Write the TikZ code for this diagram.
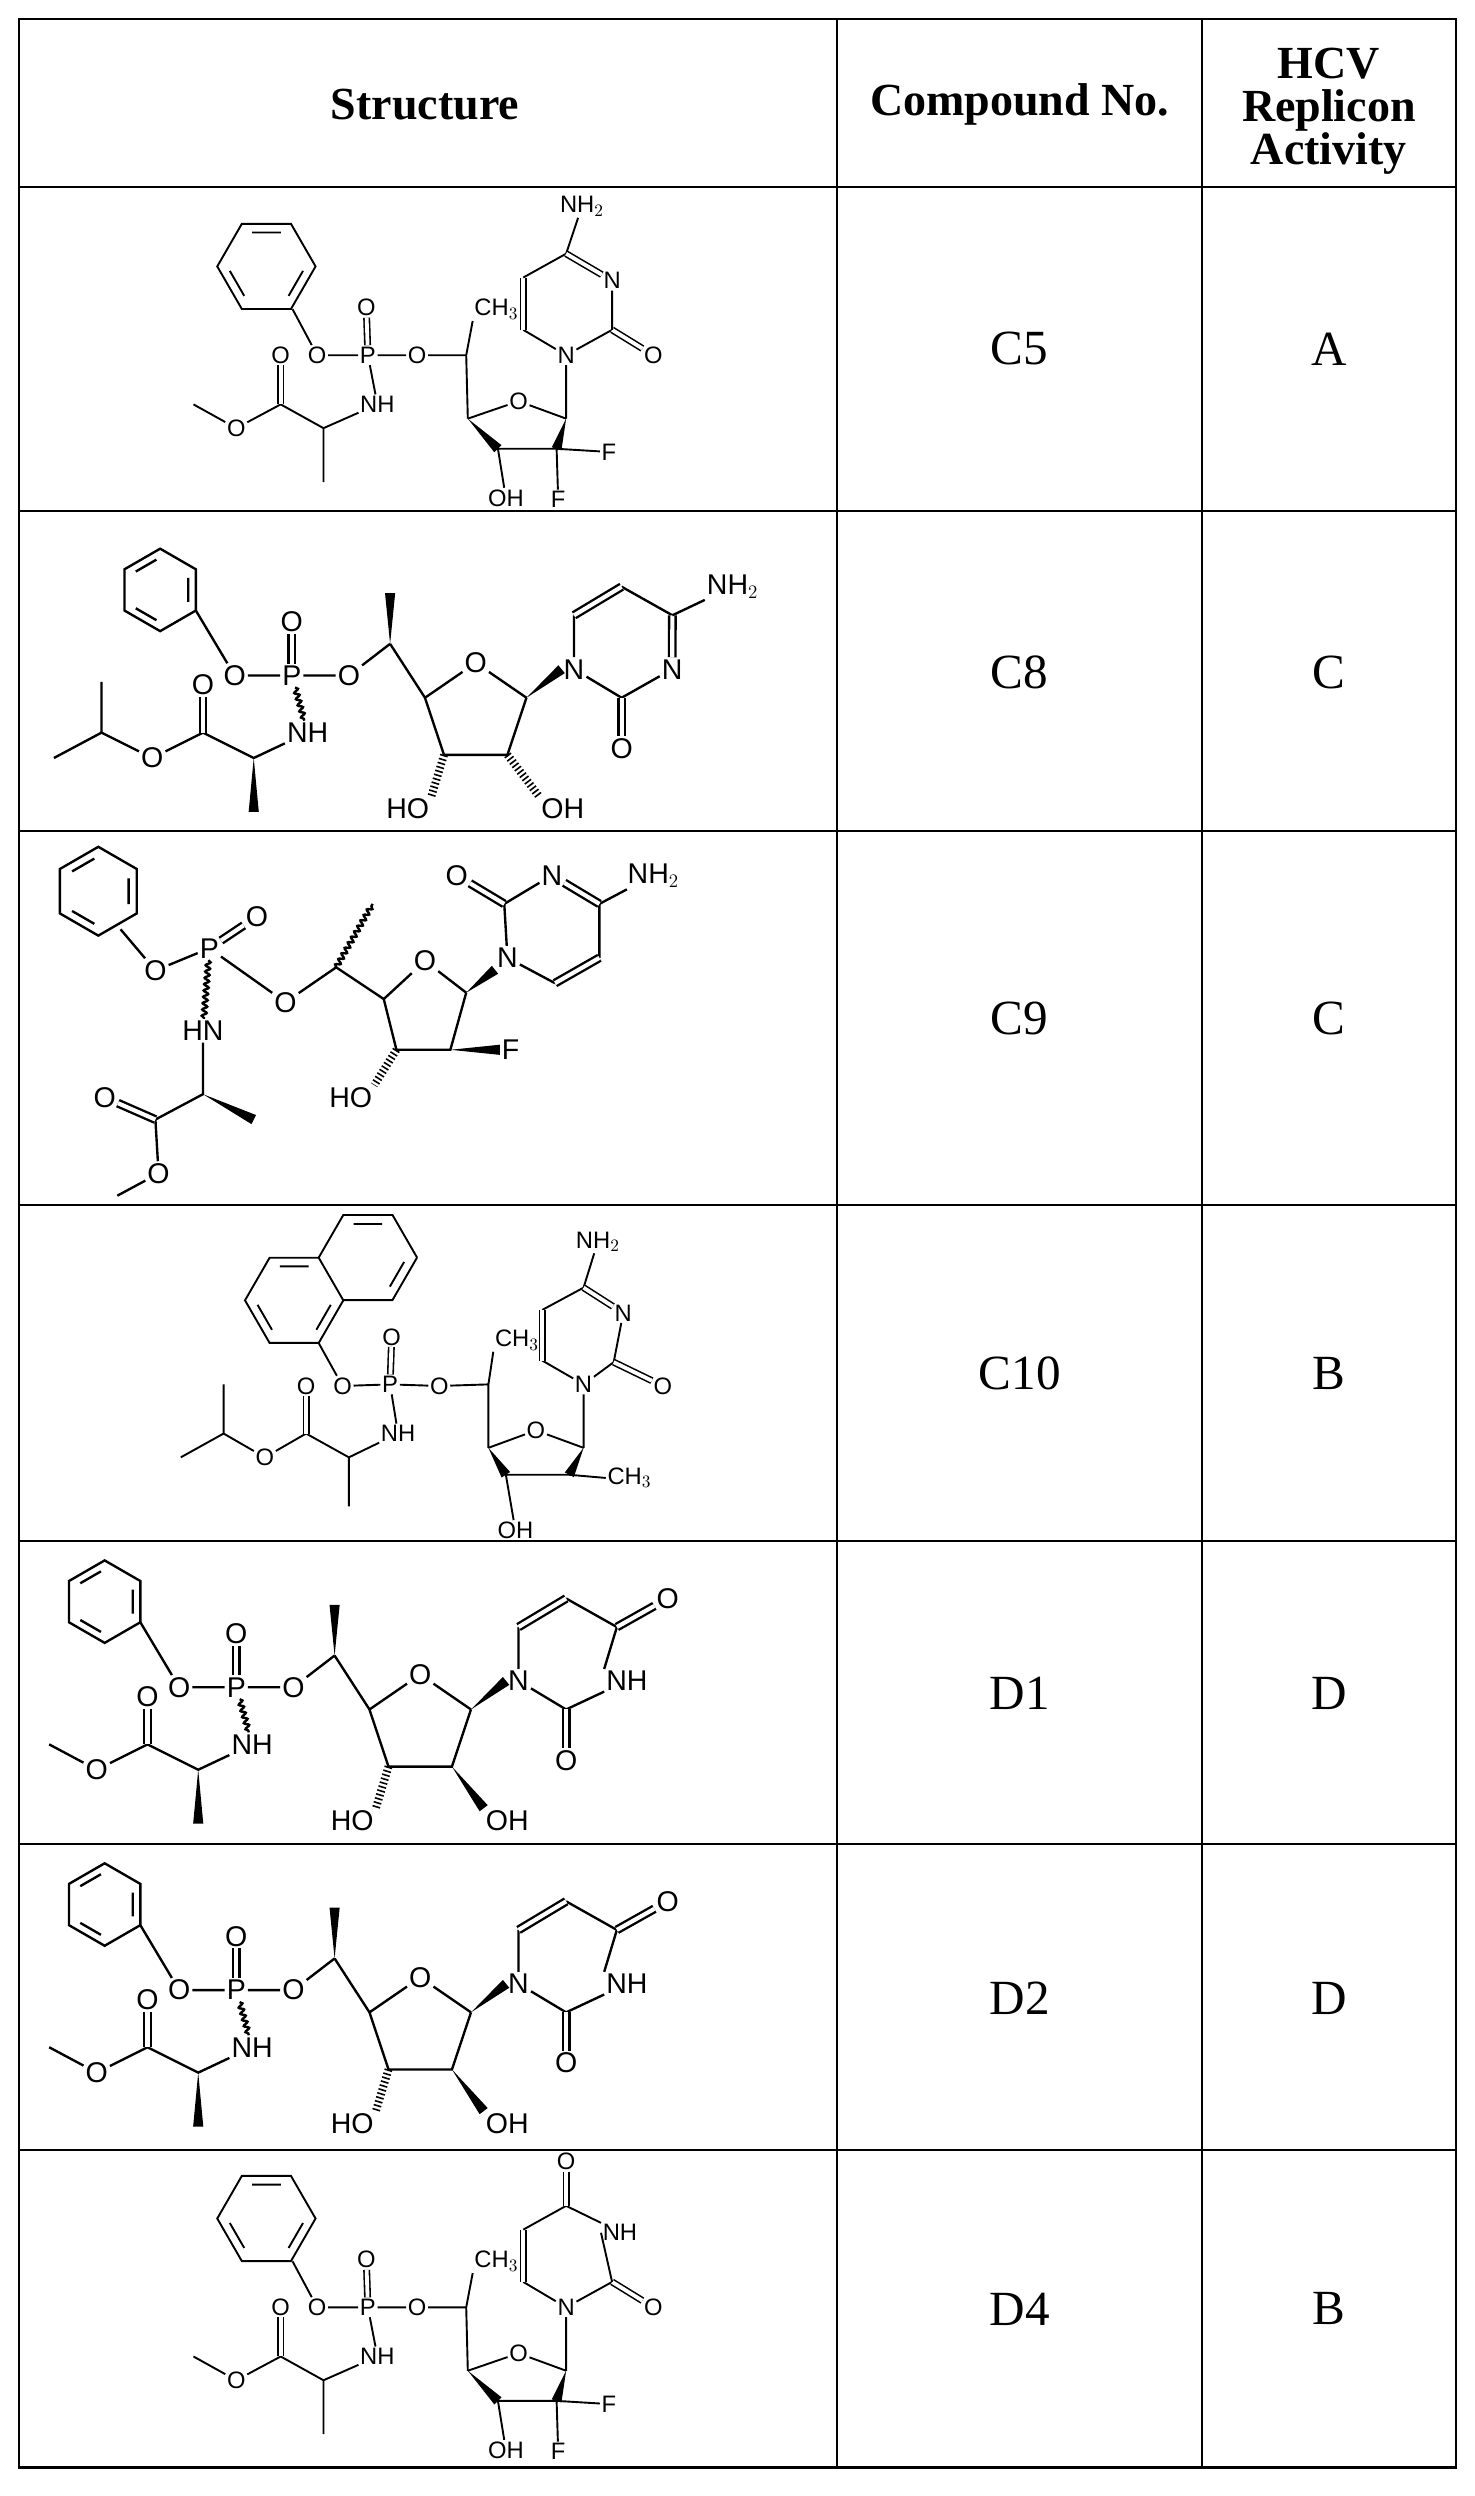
\documentclass[tikz,border=0pt]{standalone}
\usepackage{fontspec}
\setmainfont{Liberation Serif}
\newfontfamily\chem{Liberation Sans}
\usetikzlibrary{calc,decorations.pathmorphing}
\tikzset{
 grid/.style={line width=1.3pt},
 hdr/.style={font=\bfseries\fontsize{29}{27}\selectfont,align=center},
 cell/.style={font=\fontsize{31}{33}\selectfont},
 bd/.style={line width=1.5pt},
 sbd/.style={line width=1.2pt},
 atm/.style={font=\chem\fontsize{18}{18}\selectfont,inner sep=0.6pt},
 sat/.style={font=\chem\fontsize{15}{15}\selectfont,inner sep=0.5pt},
 dbl/.style={double,double distance=2.6pt},
 sdbl/.style={double,double distance=2.4pt,line width=1pt},
 hsh/.style={line width=5pt,dash pattern=on 1pt off 1.6pt},
 wavy/.style={decorate,decoration={snake,amplitude=1.5pt,segment length=4pt}}
}
\newcommand\wdgtri[2]{\fill (#1) -- ($(#2)!3.2pt!90:(#1)$) -- ($(#2)!3.2pt!-90:(#1)$) -- cycle;}
\newcommand\phen[3]{%
 \draw[shift={(#1,#2)}] (90:#3)--(150:#3)--(210:#3)--(270:#3)--(330:#3)--(30:#3)--cycle;
 \draw[shift={(#1,#2)}] (97:{0.74*#3})--(143:{0.74*#3}) (217:{0.74*#3})--(263:{0.74*#3}) (337:{0.74*#3})--(23:{0.74*#3});}
\newcommand\phenf[3]{%
 \draw[shift={(#1,#2)}] (0:#3)--(60:#3)--(120:#3)--(180:#3)--(240:#3)--(300:#3)--cycle;
 \draw[shift={(#1,#2)}] (7:{0.75*#3})--(53:{0.75*#3}) (127:{0.75*#3})--(173:{0.75*#3}) (247:{0.75*#3})--(293:{0.75*#3});}
% bold template
\newcommand\bigcore[1]{%
 \phen{101}{50}{26}
 \node[atm] (O1) at (148,104){O};
 \node[atm] (P) at (184,104){P};
 \node[atm] (Od) at (184,70){O};
 \node[atm] (O2) at (220,104){O};
 \node[atm] (N) at (194,140){NH};
 \coordinate (c5) at (246,84); \coordinate (m5) at (246,52);
 \coordinate (c4) at (268,118); \node[atm] (Or) at (300,96){O};
 \coordinate (c1) at (332,118); \coordinate (c2) at (320,154); \coordinate (c3) at (280,154);
 \node[atm] (N1) at (362,100){N};
 \coordinate (b2) at (392,118); \node[atm,anchor=west](N3) at (416,100){#1};
 \coordinate (b4) at (424,66); \coordinate (b5) at (392,48); \coordinate (b6) at (362,66);
 \node[atm](Ob) at (392,150){O};
 \coordinate (ca) at (160,156); \coordinate (cm) at (160,190); \coordinate (cc) at (128,140);
 \node[atm](Oc) at (128,110){O}; \node[atm](Oe) at (96,156){O};
 \node[atm,anchor=east](HO) at (272,188){HO};
 \draw (123.5,63)--(O1) (O1)--(P) (P)--(O2) (O2)--(c5) (c5)--(c4);
 \wdgtri{c5}{m5}
 \draw[dbl] (P)--(Od);
 \draw[wavy] (P)--(N);
 \draw (c4)--(Or) (Or)--(c1) (c1)--(c2)--(c3)--(c4);
 \wdgtri{c1}{N1.west}
 \draw (N1)--(b2) (b2)--(N3) (b4)--(b5) (b6)--(N1);
 \draw[dbl] (b2)--(Ob); \draw[dbl] (b5)--(b6);
 \draw (N)--(ca)--(cc) (cc)--(Oe);
 \draw[dbl] (cc)--(Oc);
 \wdgtri{ca}{cm}
 \draw[hsh] (c3)--(HO.north east);}
% small template
\newcommand\smallcore{%
 \phenf{168}{50}{31}
 \node[sat] (O1) at (200,106){O};
 \node[sat] (P) at (232,106){P};
 \node[sat] (Od) at (231,76){O};
 \node[sat] (O2) at (263,106){O};
 \node[sat] (N) at (238,137){NH};
 \coordinate (c5) at (294,106);
 \node[sat] (Me5) at (313,77){CH$_3$};
 \coordinate (c4) at (295,146); \node[sat] (Or) at (327,135){O};
 \coordinate (c1) at (357,146); \coordinate (c2) at (351,165); \coordinate (c3) at (314,165);
 \node[sat] (OH) at (319,196){OH};
 \node[sat] (N1) at (357,106){N};
 \coordinate (b2) at (386,90); \coordinate (b4) at (357,42);
 \coordinate (b5) at (330,57); \coordinate (b6) at (330,90);
 \node[sat](Ob) at (412,106){O};
 \coordinate (ca) at (204,152); \coordinate (cm) at (204,186); \coordinate (cc) at (177,137);
 \node[sat](Oc) at (177,106){O}; \node[sat](Oe) at (149,152){O};
 \draw (184.5,77)--(O1) (O1)--(P) (P)--(O2) (O2)--(c5) (c5)--(c4) (c5)--(Me5.south west) (P)--(N);
 \draw[sdbl] (P)--(Od);
 \draw (c4)--(Or) (Or)--(c1) (c2)--(c3) (c3)--(OH);
 \wdgtri{c4}{c3} \wdgtri{c1}{c2}
 \draw (c1)--(N1) (N1)--(b2) (b6)--(N1);
 \draw[sdbl] (b2)--(Ob); \draw[sdbl] (b5)--(b6);
 \draw (N)--(ca)--(cc) (cc)--(Oe) (ca)--(cm) (Oe)--(122,137);
 \draw[sdbl] (cc)--(Oc);
 \node[sat](F1) at (384,167){F}; \node[sat](F2) at (352,197){F};
 \draw (c2)--(F1) (c2)--(F2);}
\begin{document}
\begin{tikzpicture}[x=1pt,y=-1pt]
\fill[white] (0,0) rectangle (930,1574);
\useasboundingbox (0,0) rectangle (930,1574);
% grid
\draw[grid] (12,12) rectangle (918,1556);
\foreach \yy in {118,322,524,760,972,1163,1356} \draw[grid] (12,\yy)--(918,\yy);
\draw[grid] (528,12)--(528,1556) (758,12)--(758,1556);
\node[hdr] (h1) at (268,66){Structure};
\node[hdr] (h2) at (643,66){Compound No.};
\node[hdr] (h3) at (838,70){HCV\\Replicon\\Activity};
\foreach \y/\c/\a [count=\i] in {220/C5/A,424/C8/C,642/C9/C,866/C10/B,1068/D1/D,1260/D2/D,1456/D4/B}{
 \node[cell] (n\i) at (643,\y){\c};
 \node[cell] (a\i) at (838,\y){\a};}
% ---- C5
\begin{scope}[shift={(0,118)},sbd]
 \smallcore
 \node[sat](N3) at (386,59){N};
 \node[sat](NH2) at (367,12){NH$_2$};
 \draw (b2)--(N3) (b4)--(b5) (b4)--(NH2);
 \draw[sdbl] (N3)--(b4);
\end{scope}
% ---- C8
\begin{scope}[shift={(0,322)},bd]
 \bigcore{N}
 \draw (Oe)--(64,140)--(34,156) (64,140)--(64,108);
 \node[atm](NH2) at (462,48){NH$_2$};
 \draw[dbl] (N3)--(b4); \draw (b4)--(NH2);
 \node[atm,anchor=west](OH) at (340,188){OH};
 \draw[hsh] (c2)--(OH.north west);
\end{scope}
% ---- C9
\begin{scope}[bd]
 \phen{62}{562}{28}
 \node[atm](O1) at (98,612){O};
 \node[atm](P) at (132,598){P};
 \node[atm](Od) at (162,578){O};
 \node[atm](O2) at (180,632){O};
 \node[atm](HN) at (128,650){HN};
 \coordinate (c5) at (212,610); \coordinate (m5) at (235,570);
 \coordinate (c4) at (242,630); \node[atm](Or) at (268,606){O};
 \coordinate (c1) at (294,626); \coordinate (c2) at (284,662); \coordinate (c3) at (250,662);
 \node[atm](N1) at (320,604){N};
 \coordinate (b2) at (318,570); \node[atm](N3) at (348,552){N};
 \coordinate (b4) at (378,570); \coordinate (b5) at (378,604); \coordinate (b6) at (350,620);
 \node[atm](Ob) at (288,552){O};
 \node[atm](NH2) at (412,552){NH$_2$};
 \node[atm,anchor=east](HO) at (236,692){HO};
 \node[atm](F) at (322,662){F};
 \coordinate (ca) at (128,690); \coordinate (cm) at (160,706); \coordinate (cc) at (98,706);
 \node[atm](Oc) at (66,692){O}; \node[atm](Oe) at (100,740){O}; \coordinate (me) at (74,754);
 \draw (76,586)--(O1) (O1)--(P) (P)--(O2) (O2)--(c5) (c5)--(c4);
 \draw[dbl] (P)--(Od);
 \draw[wavy] (P)--(HN); \draw[wavy] (c5)--(m5);
 \draw (c4)--(Or) (Or)--(c1) (c1)--(c2)--(c3)--(c4);
 \wdgtri{c1}{N1.south west}
 \draw (N1)--(b2) (b2)--(N3) (b4)--(b5) (b6)--(N1) (b4)--(NH2);
 \draw[dbl] (b2)--(Ob); \draw[dbl] (N3)--(b4); \draw[dbl] (b5)--(b6);
 \draw[hsh] (c3)--(HO.north east); \wdgtri{c2}{F.west}
 \draw (HN)--(ca)--(cc) (cc)--(Oe) (Oe)--(me);
 \draw[dbl] (cc)--(Oc); \wdgtri{ca}{cm}
\end{scope}
% ---- C10
\begin{scope}[sbd]
 \phenf{185.5}{820}{31}
 \draw[shift={(232,793)}] (0:31)--(60:31)--(120:31) (180:31)--(240:31)--(300:31)--(0:31);
 \draw[shift={(232,793)}] (7:23)--(53:23) (247:23)--(293:23);
 \node[sat](O1) at (216,874){O};
 \node[sat](P) at (246,873){P};
 \node[sat](Od) at (247,843){O};
 \node[sat](O2) at (277,874){O};
 \node[sat](N) at (251,904){NH};
 \coordinate (c5) at (308,873);
 \node[sat](Me5) at (326,845){CH$_3$};
 \coordinate (c4) at (308,913); \node[sat](Or) at (338,902){O};
 \coordinate (c1) at (368,913); \coordinate (c2) at (359,930); \coordinate (c3) at (319,930);
 \node[sat](OH) at (325,965){OH};
 \node[sat,anchor=west](Me2) at (382,932){CH$_3$};
 \node[sat](N1) at (368,873){N};
 \coordinate (b2) at (387,859); \node[sat](N3) at (393,828){N};
 \coordinate (b4) at (368,812); \node[sat](NH2) at (377,783){NH$_2$};
 \coordinate (b5) at (342,826); \coordinate (b6) at (342,858);
 \node[sat](Ob) at (418,874){O};
 \coordinate (ca) at (220,919); \coordinate (cm) at (220,950); \coordinate (cc) at (193,904);
 \node[sat](Oc) at (193,874){O}; \node[sat](Oe) at (167,919){O};
 \coordinate (ip) at (141,904);
 \draw (201,847)--(O1) (O1)--(P) (P)--(O2) (O2)--(c5) (c5)--(c4) (c5)--(Me5.south west) (P)--(N);
 \draw[sdbl] (P)--(Od);
 \draw (c4)--(Or) (Or)--(c1) (c2)--(c3) (c3)--(OH) (c2)--(Me2.west);
 \wdgtri{c4}{c3} \wdgtri{c1}{c2}
 \draw (c1)--(N1) (N1)--(b2) (b2)--(N3) (b4)--(b5) (b6)--(N1) (b4)--(NH2);
 \draw[sdbl] (b2)--(Ob); \draw[sdbl] (b5)--(b6); \draw[sdbl] (N3)--(b4);
 \draw (N)--(ca)--(cc) (cc)--(Oe) (ca)--(cm) (Oe)--(ip)--(114,919) (ip)--(141,873);
 \draw[sdbl] (cc)--(Oc);
\end{scope}
% ---- D1, D2
\foreach \yy in {960,1151}{
\begin{scope}[shift={(-35,\yy)},bd]
 \bigcore{NH}
 \draw (Oe)--(66,140);
 \node[atm](O4) at (456,48){O};
 \draw (N3.north west)--(b4);
 \draw[dbl] (b4)--(O4);
 \node[atm,anchor=west](OH) at (340,188){OH};
 \wdgtri{c2}{OH.north west}
\end{scope}}
% ---- D4
\begin{scope}[shift={(0,1349)},sbd]
 \smallcore
 \node[sat,anchor=west](N3) at (379,59){NH};
 \node[sat](O4) at (357,14){O};
 \draw (b2)--(N3.west) (N3.north west)--(b4) (b4)--(b5);
 \draw[sdbl] (b4)--(O4);
\end{scope}
\end{tikzpicture}
\end{document}
